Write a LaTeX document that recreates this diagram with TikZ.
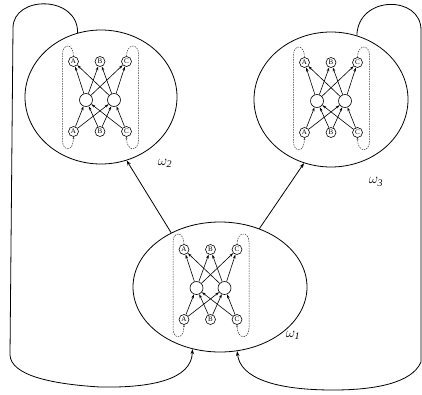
\documentclass[tikz,border=0pt]{standalone}
\usepackage{fontspec}
\setmainfont{Liberation Serif}
\usetikzlibrary{shapes.geometric,arrows.meta}
\tikzset{
 ellbox/.style={draw,ellipse,inner sep=0pt,line width=0.8pt},
 io/.style={draw,circle,minimum size=10pt,inner sep=0pt,font=\fontsize{7}{7}\selectfont,line width=0.6pt},
 hid/.style={draw,circle,minimum size=13pt,inner sep=0pt,line width=0.6pt},
 link/.style={line width=0.6pt,-{Stealth[length=4pt,width=2.6pt]}},
 fb/.style={line width=0.5pt,dash pattern=on 1.5pt off 1pt,draw=black!80,-{Stealth[length=2pt,width=1.6pt]}},
 conn/.style={line width=0.8pt,-{Stealth[length=5pt,width=3.5pt]}},
 lab/.style={font=\fontsize{14.4}{15}\selectfont},
 net/.pic={
  \node[io] (-at) at (-26.5,38.5) {A};
  \node[io] (-bt) at (0,38.5) {B};
  \node[io] (-ct) at (26.5,38.5) {C};
  \node[hid] (-h1) at (-14,0) {};
  \node[hid] (-h2) at (14,0) {};
  \node[io] (-ab) at (-26.5,-31.5) {A};
  \node[io] (-bb) at (0,-31.5) {B};
  \node[io] (-cb) at (26.5,-31.5) {C};
  \foreach \s in {ab,bb,cb}{\foreach \t in {h1,h2}{\draw[link] (-\s) -- (-\t);}}
  \foreach \s in {h1,h2}{\foreach \t in {at,bt,ct}{\draw[link] (-\s) -- (-\t);}}
  \coordinate (-l1) at (-37.5,46);
  \coordinate (-l2) at (-37.5,-40);
  \coordinate (-r1) at (38.5,46);
  \coordinate (-r2) at (38.5,-40);
  \draw[fb] (-at.north) .. controls (-26.5,57) and (-37.5,57) .. (-l1) -- (-l2) .. controls (-37.5,-52) and (-26.5,-52) .. (-ab.south);
  \draw[fb] (-ct.north) .. controls (26.5,57) and (38.5,57) .. (-r1) -- (-r2) .. controls (38.5,-52) and (26.5,-52) .. (-cb.south);
 }
}
\begin{document}
\begin{tikzpicture}[x=1pt,y=1pt]
\useasboundingbox (0,0) rectangle (422,-394);
\node[ellbox, minimum width=152pt, minimum height=134pt] (e2) at (101,-97) {};
\node[ellbox, minimum width=154pt, minimum height=135pt] (e3) at (331,-99.5) {};
\node[ellbox, minimum width=174pt, minimum height=130pt] (e1) at (220,-287) {};
\pic (n2) at (100,-100) {net};
\pic (n3) at (331,-101) {net};
\pic (n1) at (210.5,-288) {net};
\draw[conn] (e1.132) -- (e2.-68);
\draw[conn] (e1.56) -- (e3.-113);
\coordinate (la) at (13,-28);
\coordinate (lb) at (10,-355);
\coordinate (lc) at (100,-387);
\draw[conn] (e2.110) .. controls (78,5) and (13,5) .. (la) -- (lb) .. controls (11,-375) and (50,-384) .. (lc) .. controls (150,-388) and (192,-380) .. (e1.-114);
\coordinate (ra) at (421,-30);
\coordinate (rb) at (421,-362);
\coordinate (rc) at (333,-390);
\draw[conn] (e3.68) .. controls (358,5) and (421,5) .. (ra) -- (rb) .. controls (412,-383) and (375,-390) .. (rc) .. controls (275,-390) and (240,-378) .. (e1.-75);
\node[lab] (w2) at (165,-163) {$\omega_{\mathit{2}}$};
\node[lab] (w3) at (376,-182) {$\omega_{\mathit{3}}$};
\node[lab] (w1) at (293,-335) {$\omega_{\mathit{1}}$};
\end{tikzpicture}
\end{document}
